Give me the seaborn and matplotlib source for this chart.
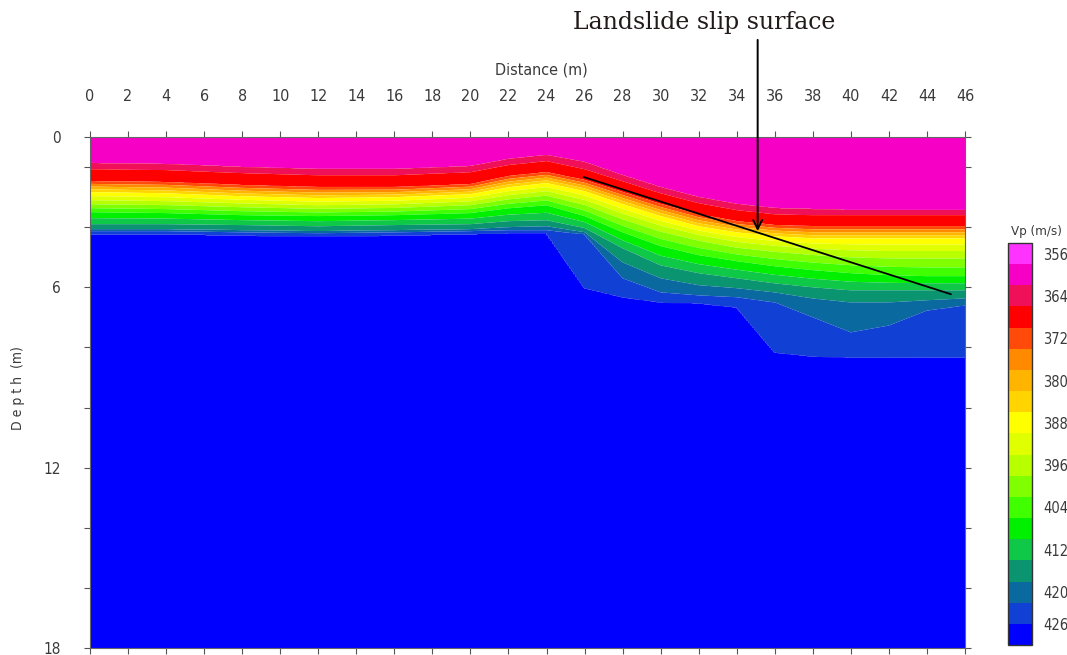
import numpy as np
import matplotlib
matplotlib.use("Agg")
import matplotlib.pyplot as plt
import seaborn as sns

# ---------------- data ----------------
x_nodes = [0, 4, 8, 12, 16, 20, 22, 24, 26, 28, 30, 32, 34, 36, 38, 40, 42, 44, 46]

top_depth = 1.0
top_vp = 359
bottom_depth = 18.0
bottom_vp = 429

# depth (m) of each velocity iso-line along the profile
level_vp = [362, 366, 370, 386, 396, 406, 414, 418, 422, 426]
d_362 = [1.87, 1.90, 2.00, 2.07, 2.07, 1.97, 1.73, 1.60, 1.83, 2.27, 2.67, 3.00, 3.23, 3.37, 3.40, 3.43, 3.43, 3.43, 3.43]
d_366 = [2.07, 2.10, 2.20, 2.27, 2.27, 2.17, 1.93, 1.80, 2.07, 2.47, 2.87, 3.20, 3.43, 3.57, 3.60, 3.60, 3.60, 3.60, 3.60]
d_370 = [2.47, 2.50, 2.60, 2.67, 2.67, 2.57, 2.30, 2.17, 2.43, 2.83, 3.23, 3.57, 3.80, 3.93, 3.97, 3.97, 3.97, 3.97, 3.97]
d_386 = [2.83, 2.87, 2.97, 3.03, 3.00, 2.90, 2.67, 2.53, 2.80, 3.23, 3.63, 3.97, 4.17, 4.30, 4.37, 4.37, 4.37, 4.37, 4.37]
d_396 = [3.17, 3.20, 3.27, 3.33, 3.30, 3.20, 3.00, 2.87, 3.17, 3.63, 4.03, 4.33, 4.57, 4.70, 4.80, 4.87, 4.90, 4.90, 4.90]
d_406 = [3.50, 3.53, 3.60, 3.63, 3.60, 3.53, 3.37, 3.27, 3.63, 4.17, 4.63, 4.93, 5.13, 5.30, 5.43, 5.53, 5.60, 5.63, 5.63]
d_414 = [3.90, 3.90, 3.93, 3.97, 3.93, 3.90, 3.80, 3.77, 4.03, 4.70, 5.27, 5.53, 5.70, 5.87, 6.00, 6.10, 6.10, 6.10, 6.10]
d_418 = [4.07, 4.07, 4.10, 4.13, 4.10, 4.07, 4.00, 3.97, 4.17, 5.17, 5.70, 5.93, 6.03, 6.17, 6.37, 6.50, 6.50, 6.43, 6.37]
d_422 = [4.13, 4.13, 4.17, 4.20, 4.17, 4.13, 4.10, 4.10, 4.23, 5.70, 6.17, 6.27, 6.33, 6.50, 7.00, 7.50, 7.27, 6.77, 6.60]
d_426 = [4.23, 4.23, 4.27, 4.30, 4.27, 4.23, 4.20, 4.20, 6.03, 6.33, 6.50, 6.53, 6.67, 8.17, 8.30, 8.33, 8.33, 8.33, 8.33]

band_edges = [354, 358, 362, 366, 370, 374, 378, 382, 386, 390,
              394, 398, 402, 406, 410, 414, 418, 422, 426, 430]
band_colors = ["#ff33ff", "#f700c6", "#f0105a", "#ff0000", "#ff4a0a",
               "#ff8a00", "#ffb400", "#ffd400", "#ffff00", "#e0ff00",
               "#b8ff00", "#80ff00", "#40ff00", "#00f000", "#10c848",
               "#0a9470", "#0a6aa0", "#1040d4", "#0000ff"]

cb_ticks = [356, 364, 372, 380, 388, 396, 404, 412, 420, 426]
cb_labels = ["356", "364", "372", "380", "388", "396", "404", "412", "420", "426"]

x_ticks = list(range(0, 47, 2))
y_major = [1, 6, 12, 18]
y_major_labels = ["0", "6", "12", "18"]
y_minor = [2, 4, 8, 10, 14, 16]

slip_x = [25.95, 45.26]
slip_d = [2.33, 6.23]
arrow_x = 35.1
arrow_tip_d = 4.13
arrow_start_d = -2.23

title_text = "Landslide slip surface"

# ---------------- build the velocity field ----------------
level_depths = [d_362, d_366, d_370, d_386, d_396, d_406, d_414, d_418, d_422, d_426]
xg = np.linspace(0, 46, 461)
dg = np.linspace(1, 18, 681)
V = np.empty((len(dg), len(xg)))
vs = [top_vp] + level_vp + [bottom_vp]
for j, xv in enumerate(xg):
    ds = [top_depth] + [np.interp(xv, x_nodes, L) for L in level_depths] + [bottom_depth]
    V[:, j] = np.interp(dg, ds, vs)

# ---------------- styling ----------------
sns.set_theme(style="ticks")
narrow = ["Liberation Sans Narrow", "DejaVu Sans"]
plt.rcParams["font.family"] = narrow
plt.rcParams["font.stretch"] = "condensed"
txt_color = "#3a3a3a"

fig = plt.figure(figsize=(10.67, 6.55), dpi=100)
ax = fig.add_axes([90 / 1067, 1 - 648 / 655, (965 - 90) / 1067, (648 - 137) / 655])

cs = ax.contourf(xg, dg, V, levels=band_edges, colors=band_colors, antialiased=True)

sns.lineplot(x=slip_x, y=slip_d, color="black", lw=1.3, ax=ax, legend=False)
ax.annotate("", xy=(arrow_x, arrow_tip_d), xytext=(arrow_x, arrow_start_d),
            xycoords="data", textcoords="data", annotation_clip=False,
            arrowprops=dict(arrowstyle="->", lw=1.4, color="black", mutation_scale=16,
                            shrinkA=0, shrinkB=0))

ax.set_xlim(0, 46)
ax.set_ylim(18, 1)
ax.set_xticks(x_ticks)
ax.set_xticklabels([str(t) for t in x_ticks])
ax.set_yticks(y_major)
ax.set_yticklabels(y_major_labels)
ax.set_yticks(y_minor, minor=True)
ax.tick_params(axis="x", which="both", top=True, bottom=True, labeltop=True,
               labelbottom=False, direction="out", length=4, width=0.8,
               color="#555555", labelsize=11.5, labelcolor=txt_color, pad=20)
ax.tick_params(axis="y", which="both", left=True, right=True, labelleft=True,
               labelright=False, direction="out", length=4, width=0.8,
               color="#555555", labelsize=11, labelcolor=txt_color, pad=17)
for s in ax.spines.values():
    s.set_color("#666666")
    s.set_linewidth(0.8)
ax.set_xlabel("")
ax.set_ylabel("")

fig.text(541 / 1067, 1 - 70 / 655, "Distance (m)", ha="center", va="center",
         fontsize=11.5, color=txt_color, family=narrow)
fig.text(18 / 1067, 1 - 388 / 655, "D e p t h  (m)", ha="center", va="center",
         rotation=90, fontsize=10, color=txt_color, family=narrow)
fig.text(704 / 1067, 1 - 22 / 655, title_text, ha="center", va="center",
         fontsize=17, color="#221a1a", family=["DejaVu Serif"], stretch="normal")

# colorbar
cax = fig.add_axes([1008 / 1067, 1 - 645 / 655, 24 / 1067, (645 - 243) / 655])
cbar = fig.colorbar(cs, cax=cax, drawedges=True, ticks=cb_ticks)
cax.invert_yaxis()
cbar.ax.set_yticklabels(cb_labels)
cbar.ax.tick_params(length=0, labelsize=10.5, labelcolor=txt_color, pad=8)
cbar.dividers.set_color("#333333")
cbar.dividers.set_linewidth(1.0)
cbar.outline.set_edgecolor("#333333")
cbar.outline.set_linewidth(1.0)
fig.text(1036 / 1067, 1 - 231 / 655, "Vp (m/s)", ha="center", va="center",
         fontsize=9.5, color=txt_color, family=narrow)

fig.savefig("out.png", dpi=100)
